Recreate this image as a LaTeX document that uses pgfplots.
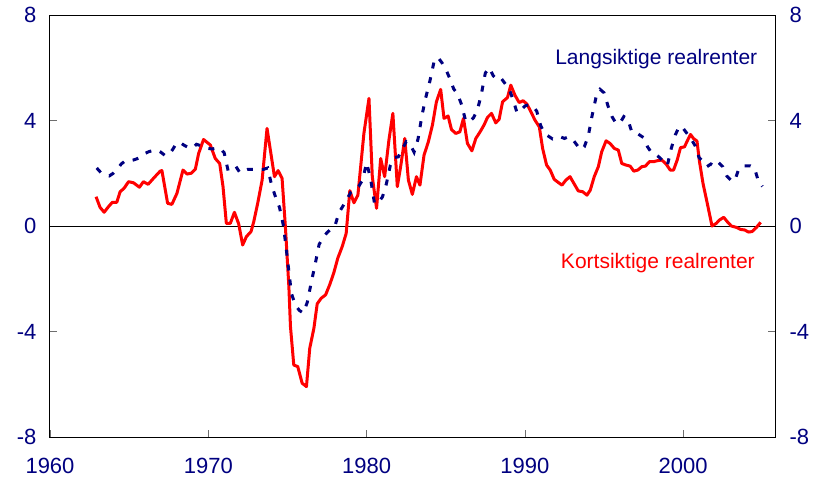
\documentclass[border=0pt]{standalone}
\usepackage{pgfplots}
\pgfplotsset{compat=1.18}
\usepackage{fontspec}
\setmainfont{Liberation Sans}
\definecolor{navy}{RGB}{0,0,128}
\definecolor{tickgray}{RGB}{110,110,110}
\begin{document}
\begin{tikzpicture}
\path[use as bounding box] (0,0) rectangle (819pt,488pt);
\begin{axis}[
  at={(50pt,51pt)}, anchor=south west,
  scale only axis, width=725pt, height=422pt,
  xmin=1960, xmax=2005.8, ymin=-8, ymax=8,
  xtick={1960,1970,1980,1990,2000},
  xticklabels={1960,1970,1980,1990,2000},
  ytick={-8,-4,0,4,8},
  yticklabels={-8,-4,0,4,8},
  xtick pos=bottom, ytick pos=both, yticklabel pos=left,
  tick align=inside,
  major tick length=7pt,
  major tick style={tickgray, line width=0.8pt},
  axis line style={black, line width=1pt},
  tick label style={font=\fontsize{22}{26}\selectfont, text=navy},
  xticklabel style={yshift=-18pt},
  yticklabel style={xshift=-10pt},
  clip=false,
]
\addplot[black, line width=0.8pt, forget plot] coordinates {(1960,0) (2005.8,0)};
\addplot[red, line width=3pt, line join=round] coordinates {
(1962.91,1.11) (1963.16,0.71) (1963.42,0.52) (1963.69,0.73) (1963.94,0.90)
(1964.22,0.90) (1964.43,1.30) (1964.68,1.43) (1964.96,1.68) (1965.27,1.64)
(1965.65,1.47) (1965.9,1.68) (1966.2,1.58) (1966.54,1.81) (1966.96,2.08)
(1967.07,2.10) (1967.43,0.86) (1967.7,0.82) (1968.02,1.24) (1968.4,2.12)
(1968.65,1.97) (1968.92,2.0) (1969.18,2.15) (1969.39,2.75) (1969.7,3.28)
(1970.13,3.07) (1970.44,2.56) (1970.72,2.37) (1970.93,1.49) (1971.14,0.10)
(1971.39,0.10) (1971.65,0.52) (1971.92,0.08) (1972.17,-0.72) (1972.41,-0.40)
(1972.70,-0.21) (1972.87,0.16) (1973.12,0.86) (1973.4,1.74) (1973.71,3.70)
(1973.92,2.88) (1974.18,1.87) (1974.41,2.10) (1974.66,1.81) (1974.87,-0.03)
(1975.09,-2.30) (1975.19,-3.81) (1975.4,-5.27) (1975.65,-5.33) (1975.93,-5.96)
(1976.2,-6.09) (1976.41,-4.63) (1976.67,-3.88) (1976.88,-2.95) (1977.13,-2.74)
(1977.41,-2.61) (1977.68,-2.21) (1977.93,-1.77) (1978.18,-1.22) (1978.46,-0.78)
(1978.71,-0.28) (1978.94,1.34) (1979.20,0.88) (1979.45,1.17) (1979.83,3.51)
(1980.15,4.84) (1980.36,1.87) (1980.63,0.67) (1980.89,2.56) (1981.14,1.87)
(1981.41,3.26) (1981.66,4.27) (1981.94,1.49) (1982.15,2.25) (1982.41,3.32)
(1982.64,1.74) (1982.89,1.20) (1983.15,1.87) (1983.37,1.55) (1983.63,2.69)
(1983.9,3.19) (1984.16,3.83) (1984.41,4.71) (1984.68,5.18) (1984.89,4.08)
(1985.15,4.17) (1985.36,3.66) (1985.63,3.51) (1985.89,3.57) (1986.12,4.08)
(1986.37,3.13) (1986.65,2.85) (1986.9,3.32) (1987.17,3.57) (1987.42,3.83)
(1987.64,4.12) (1987.89,4.27) (1988.16,3.91) (1988.37,4.04) (1988.59,4.71)
(1988.9,4.87) (1989.11,5.34) (1989.37,4.96) (1989.64,4.68) (1989.89,4.75)
(1990.13,4.62) (1990.38,4.33) (1990.63,4.02) (1990.91,3.76) (1991.12,2.94)
(1991.37,2.31) (1991.6,2.12) (1991.85,1.77) (1992.11,1.65) (1992.34,1.55)
(1992.59,1.74) (1992.85,1.87) (1993.12,1.59) (1993.37,1.33) (1993.65,1.30)
(1993.92,1.17) (1994.13,1.36) (1994.38,1.87) (1994.64,2.25) (1994.85,2.81)
(1995.13,3.23) (1995.38,3.13) (1995.65,2.94) (1995.9,2.88) (1996.12,2.37)
(1996.39,2.31) (1996.65,2.27) (1996.88,2.08) (1997.13,2.12) (1997.39,2.25)
(1997.61,2.27) (1997.87,2.44) (1998.14,2.44) (1998.4,2.48) (1998.65,2.5)
(1998.92,2.35) (1999.18,2.12) (1999.39,2.12) (1999.62,2.5) (1999.83,2.97)
(2000.08,3.0) (2000.3,3.28) (2000.46,3.47) (2000.65,3.32) (2000.87,3.22)
(2001.03,2.44) (2001.25,1.62) (2001.52,0.86) (2001.82,0.0) (2002.09,0.10)
(2002.3,0.23) (2002.56,0.33) (2002.79,0.16) (2003.04,0.0) (2003.35,-0.05)
(2003.63,-0.13) (2003.88,-0.15) (2004.13,-0.23) (2004.35,-0.21) (2004.62,-0.06)
(2004.89,0.14)
};
\addplot[navy, line width=3pt, dash pattern=on 6pt off 9pt] coordinates {
(1962.95,2.2) (1963.25,2.0) (1963.5,1.95) (1963.75,1.9) (1964.0,2.0)
(1964.25,2.15) (1964.5,2.35) (1964.75,2.47) (1965.0,2.47) (1965.25,2.5)
(1965.5,2.55) (1965.75,2.62) (1966.0,2.75) (1966.25,2.82) (1966.5,2.86)
(1966.75,2.88) (1967.0,2.8) (1967.25,2.68) (1967.5,2.7) (1967.75,2.9)
(1968.0,3.15) (1968.25,3.15) (1968.5,3.05) (1968.75,2.98) (1969.0,2.95)
(1969.25,3.1) (1969.5,3.05) (1969.75,2.97) (1970.0,2.94) (1970.25,2.92)
(1970.5,2.95) (1970.75,2.94) (1971.0,2.78) (1971.25,2.1) (1971.5,2.15)
(1971.75,2.25) (1972.0,2.02) (1972.25,2.1) (1972.5,2.15) (1972.75,2.15)
(1973.0,2.15) (1973.25,2.15) (1973.5,2.15) (1973.75,2.2) (1974.0,1.55)
(1974.25,1.1) (1974.5,0.7) (1974.75,0.0) (1975.0,-1.25) (1975.25,-2.55)
(1975.5,-3.0) (1975.75,-3.2) (1976.0,-3.3) (1976.25,-2.9) (1976.5,-2.15)
(1976.75,-1.45) (1977.0,-0.7) (1977.25,-0.45) (1977.5,-0.25) (1977.75,-0.12)
(1978.0,0.0) (1978.25,0.5) (1978.5,0.75) (1978.75,1.0) (1979.0,1.28)
(1979.25,1.4) (1979.5,1.5) (1979.75,1.75) (1980.0,2.4) (1980.25,1.8)
(1980.5,0.85) (1980.75,0.9) (1981.0,1.1) (1981.25,1.6) (1981.5,2.3)
(1981.75,2.6) (1982.0,2.62) (1982.25,2.9) (1982.5,3.2) (1982.75,3.1)
(1983.0,2.8) (1983.25,3.3) (1983.5,4.2) (1983.75,4.9) (1984.0,5.5)
(1984.25,6.2) (1984.5,6.4) (1984.75,6.2) (1985.0,5.95) (1985.25,5.6)
(1985.5,5.2) (1985.75,5.0) (1986.0,4.6) (1986.25,4.0) (1986.5,3.95)
(1986.75,4.1) (1987.0,4.4) (1987.25,5.0) (1987.5,5.8) (1987.75,6.0)
(1988.0,5.7) (1988.25,5.55) (1988.5,5.6) (1988.75,5.4) (1989.0,5.2)
(1989.25,4.8) (1989.5,4.3) (1989.75,4.4) (1990.0,4.55) (1990.25,4.6)
(1990.5,4.55) (1990.75,4.35) (1991.0,3.8) (1991.25,3.5) (1991.5,3.4)
(1991.75,3.3) (1992.0,3.35) (1992.25,3.38) (1992.5,3.32) (1992.75,3.38)
(1993.0,3.3) (1993.25,3.1) (1993.5,2.9) (1993.75,3.0) (1994.0,3.4)
(1994.25,4.2) (1994.5,4.9) (1994.75,5.18) (1995.0,5.05) (1995.25,4.55)
(1995.5,4.15) (1995.75,3.9) (1996.0,3.9) (1996.25,4.15) (1996.5,4.05)
(1996.75,3.57) (1997.0,3.55) (1997.25,3.45) (1997.5,3.35) (1997.75,3.0)
(1998.0,2.78) (1998.25,2.72) (1998.5,2.6) (1998.75,2.45) (1999.0,2.3)
(1999.25,2.95) (1999.5,3.45) (1999.75,3.78) (2000.0,3.7) (2000.25,3.5)
(2000.5,3.3) (2000.75,3.05) (2001.0,2.6) (2001.25,2.45) (2001.5,2.25)
(2001.75,2.35) (2002.0,2.25) (2002.25,2.4) (2002.5,2.25) (2002.75,1.9)
(2003.0,1.75) (2003.25,1.7) (2003.5,2.15) (2003.75,2.27) (2004.0,2.28)
(2004.25,2.28) (2004.5,2.2) (2004.75,1.7) (2005.0,1.5)
};
\node[anchor=base, text=navy, font=\fontsize{21}{25}\selectfont] at (axis cs:1998.3,6.14) {Langsiktige realrenter};
\node[anchor=base, text=red, font=\fontsize{21}{25}\selectfont] at (axis cs:1998.4,-1.63) {Kortsiktige realrenter};
\end{axis}
\begin{axis}[
  at={(50pt,51pt)}, anchor=south west,
  scale only axis, width=725pt, height=422pt,
  xmin=1960, xmax=2005.8, ymin=-8, ymax=8,
  axis x line=none, axis y line*=right,
  y axis line style={draw=none},
  major tick style={draw=none},
  ytick={-8,-4,0,4,8},
  yticklabels={-8,-4,0,4,8},
  tick label style={font=\fontsize{22}{26}\selectfont, text=navy},
  yticklabel style={xshift=11pt},
]
\end{axis}
\end{tikzpicture}
\end{document}
